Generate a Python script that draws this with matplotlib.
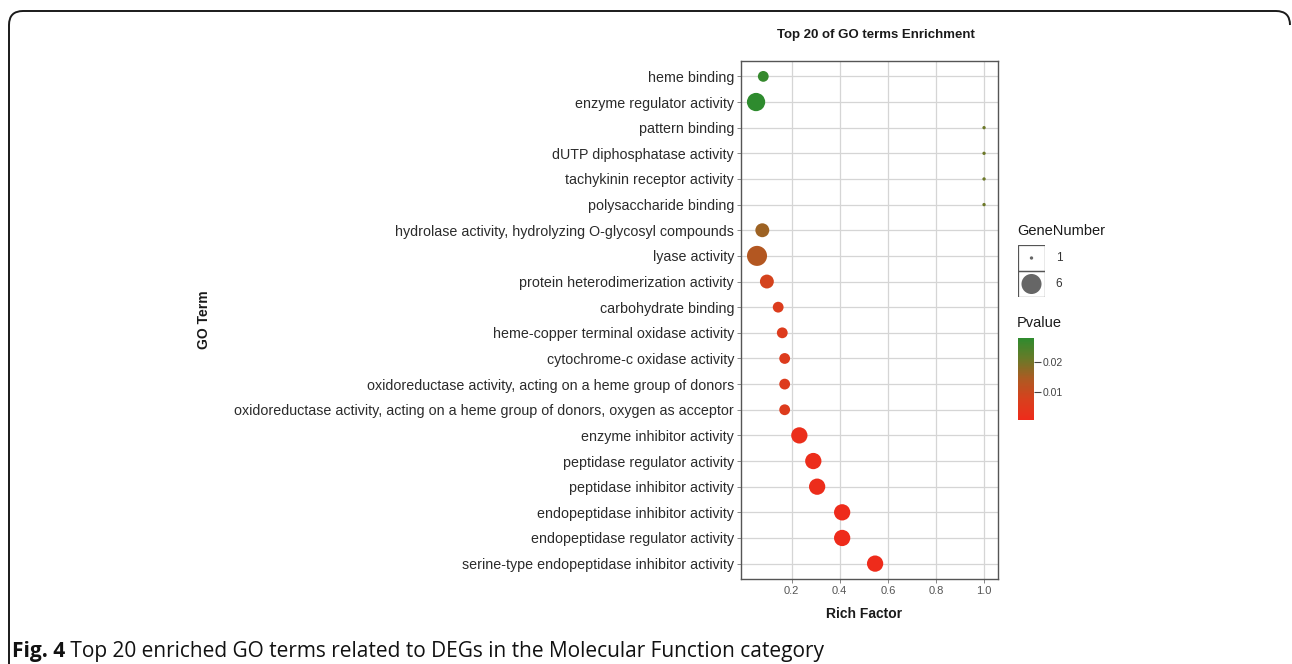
import numpy as np
import matplotlib
matplotlib.use("Agg")
import matplotlib.pyplot as plt
from matplotlib.colors import LinearSegmentedColormap, Normalize
from matplotlib.path import Path
from matplotlib.patches import PathPatch, Rectangle
from matplotlib.cm import ScalarMappable

# ---------------- data (top row first) ----------------
terms = [
    "heme binding",
    "enzyme regulator activity",
    "pattern binding",
    "dUTP diphosphatase activity",
    "tachykinin receptor activity",
    "polysaccharide binding",
    "hydrolase activity, hydrolyzing O-glycosyl compounds",
    "lyase activity",
    "protein heterodimerization activity",
    "carbohydrate binding",
    "heme-copper terminal oxidase activity",
    "cytochrome-c oxidase activity",
    "oxidoreductase activity, acting on a heme group of donors",
    "oxidoreductase activity, acting on a heme group of donors, oxygen as acceptor",
    "enzyme inhibitor activity",
    "peptidase regulator activity",
    "peptidase inhibitor activity",
    "endopeptidase inhibitor activity",
    "endopeptidase regulator activity",
    "serine-type endopeptidase inhibitor activity",
]
rich_factor = [0.082, 0.052, 1.0, 1.0, 1.0, 1.0, 0.078, 0.056, 0.097, 0.144,
               0.161, 0.171, 0.171, 0.171, 0.232, 0.290, 0.306, 0.410, 0.410, 0.547]
gene_number = [2, 5, 1, 1, 1, 1, 3, 6, 3, 2, 2, 2, 2, 2, 4, 4, 4, 4, 4, 4]
pvalue = [0.0275, 0.0284, 0.021, 0.021, 0.021, 0.021, 0.016, 0.0135, 0.008, 0.006,
          0.0055, 0.0055, 0.0055, 0.0055, 0.0012, 0.0009, 0.0008, 0.0004, 0.0004, 0.0002]
x_ticks = [0.2, 0.4, 0.6, 0.8, 1.0]
x_ticklabels = ["0.2", "0.4", "0.6", "0.8", "1.0"]
cbar_ticks = [0.01, 0.02]
legend_sizes = [1, 6]

title = "Top 20 of GO terms Enrichment"
xlabel = "Rich Factor"
ylabel = "GO Term"
caption_bold = "Fig. 4"
caption_rest = " Top 20 enriched GO terms related to DEGs in the Molecular Function category"

# ---------------- layout helpers ----------------
W, H = 1292, 664
fig = plt.figure(figsize=(W / 100, H / 100), dpi=100)
fig.patch.set_facecolor("white")


def fx(px):
    return px / W


def fy(py):
    return 1 - py / H


gmin, gmax = min(legend_sizes), max(legend_sizes)


def marker_area(g):
    g = np.asarray(g, dtype=float)
    size = 1 + 5 * np.sqrt((g - gmin) / (gmax - gmin))
    r_px = 1.67 * size
    return (2 * r_px * 0.72) ** 2


cmap = LinearSegmentedColormap.from_list(
    "rg", ["#EE2B1B", "#D8401D", "#AE5A22", "#687A28", "#2E8B2E"])
norm = Normalize(vmin=min(pvalue), vmax=max(pvalue))

# ---------------- overlay (frame, caption) ----------------
ov = fig.add_axes([0, 0, 1, 1], zorder=0)
ov.set_xlim(0, W)
ov.set_ylim(H, 0)
ov.axis("off")
r = 14
verts = [(9, H + 5), (9, 11 + r), (9, 11), (9 + r, 11), (W - 2 - r, 11), (W - 2, 11), (W - 2, 11 + r)]
codes = [Path.MOVETO, Path.LINETO, Path.CURVE3, Path.CURVE3, Path.LINETO, Path.CURVE3, Path.CURVE3]
ov.add_patch(PathPatch(Path(verts, codes), fill=False, lw=1.4, edgecolor="#1a1a1a"))

# ---------------- main panel ----------------
ax = fig.add_axes([fx(741), fy(579), fx(998) - fx(741), fy(61) - fy(579)], zorder=2)
n = len(terms)
ypos = np.arange(n, 0, -1)
ax.scatter(rich_factor, ypos, s=marker_area(gene_number), c=pvalue, cmap=cmap, norm=norm,
           edgecolors="none", zorder=3)
ax.set_xlim(-0.0106, 1.058)
ax.set_ylim(0.4, n + 0.6)
ax.set_yticks(ypos)
ax.set_yticklabels(terms, fontsize=10.3, color="#2b2b2b", family="Liberation Sans")
ax.set_xticks(x_ticks)
ax.set_xticklabels(x_ticklabels, fontsize=8, color="#555555", family="Liberation Sans")
ax.tick_params(axis="both", length=3, width=0.7, color="#888888", pad=2)
ax.grid(True, color="#D5D5D5", lw=0.9)
ax.set_axisbelow(True)
for sp in ax.spines.values():
    sp.set_color("#555555")
    sp.set_linewidth(1.0)

fig.text(fx(876), fy(35), title, ha="center", va="center", fontsize=9.5,
         fontweight="bold", family="Liberation Sans", color="#1a1a1a")
fig.text(fx(864), fy(614), xlabel, ha="center", va="center", fontsize=10,
         fontweight="bold", family="Liberation Sans", color="#1a1a1a")
fig.text(fx(204), fy(320), ylabel, ha="center", va="center", fontsize=10,
         fontweight="bold", family="Liberation Sans", rotation=90, color="#1a1a1a")

# ---------------- size legend ----------------
lg = fig.add_axes([fx(1018), fy(297), fx(1045) - fx(1018), fy(245) - fy(297)], zorder=2)
lg.set_xlim(0, 1)
lg.set_ylim(0, len(legend_sizes))
lg.axis("off")
for i, g in enumerate(legend_sizes):
    yy = len(legend_sizes) - 1 - i
    lg.add_patch(Rectangle((0, yy), 1, 1, fill=False, edgecolor="#555555", lw=0.9))
    lg.scatter([0.5], [yy + 0.5], s=marker_area(g), color="#666666", edgecolors="none")
    lg.text(1.4, yy + 0.5, str(g), va="center", ha="left", fontsize=8.5,
            color="#333333", family="Liberation Sans")
fig.text(fx(1017), fy(231), "GeneNumber", ha="left", va="center", fontsize=10.5,
         color="#1a1a1a", family="Liberation Sans")

# ---------------- colour bar ----------------
fig.text(fx(1017), fy(323), "Pvalue", ha="left", va="center", fontsize=10.5,
         color="#1a1a1a", family="Liberation Sans")
cax = fig.add_axes([fx(1018), fy(420), fx(1034) - fx(1018), fy(338) - fy(420)], zorder=2)
cb = fig.colorbar(ScalarMappable(norm=norm, cmap=cmap), cax=cax)
cb.outline.set_visible(False)
cb.set_ticks(cbar_ticks)
cb.set_ticklabels([f"{t:.2f}" for t in cbar_ticks])
cax.tick_params(length=5, width=0.8, color="#444444", labelsize=7.5, labelcolor="#444444", pad=1)
for t in cax.get_yticklabels():
    t.set_family("Liberation Sans")

# ---------------- caption ----------------
t1 = fig.text(fx(12), fy(652), caption_bold, ha="left", va="center", fontsize=15,
              fontweight="bold", family="Open Sans", color="#111111")
fig.canvas.draw()
bb = t1.get_window_extent()
fig.text(bb.x1 / W, fy(652), caption_rest, ha="left", va="center", fontsize=15,
         family="Open Sans", color="#111111")

fig.savefig("out.png", dpi=100, facecolor="white")
